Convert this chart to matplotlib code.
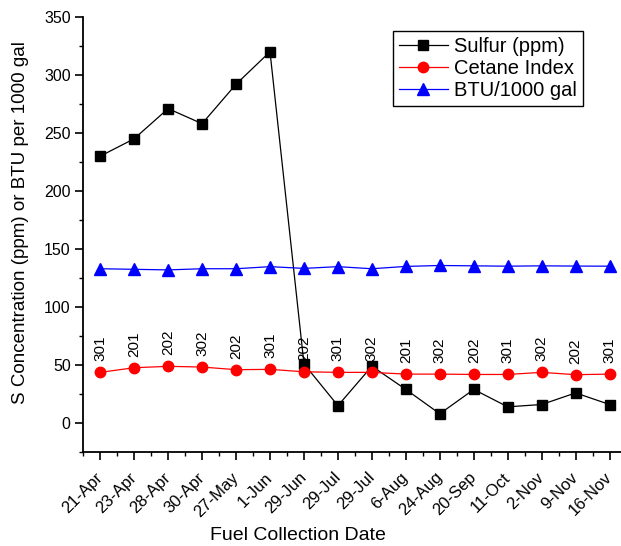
import matplotlib
matplotlib.use('Agg')
import matplotlib.pyplot as plt
from matplotlib.ticker import MultipleLocator
import numpy as np

plt.rcParams['font.family'] = ['Liberation Sans', 'DejaVu Sans']

dates = ['21-Apr', '23-Apr', '28-Apr', '30-Apr', '27-May', '1-Jun', '29-Jun', '29-Jul',
         '29-Jul', '6-Aug', '24-Aug', '20-Sep', '11-Oct', '2-Nov', '9-Nov', '16-Nov']
sulfur = [230, 245, 271, 258, 292, 320, 51, 15, 49, 29, 8, 29, 14, 16, 26, 16]
cetane = [43.7, 47.7, 48.9, 48.3, 46, 46.3, 44.2, 43.7, 43.7, 42.2, 42.2, 41.9, 41.9, 43.7, 41.7, 42.2]
btu = [133, 132.5, 132, 133, 133, 134.8, 133.3, 134.8, 133, 135, 135.8, 135.5, 135.2, 135.5, 135.3, 135.2]
grades = ['301', '201', '202', '302', '202', '301', '202', '301',
          '302', '201', '302', '202', '301', '302', '202', '301']

x = np.arange(len(dates))

fig = plt.figure(figsize=(6.21, 5.46), dpi=100)
ax = fig.add_axes([0.134, 0.172, 0.875, 0.797])

ax.plot(x, sulfur, color='black', lw=0.9, marker='s', ms=7, label='Sulfur (ppm)')
ax.plot(x, cetane, color='red', lw=0.9, marker='o', ms=7.5, label='Cetane Index')
ax.plot(x, btu, color='blue', lw=0.9, marker='^', ms=8, label='BTU/1000 gal')

for xi, yi, g in zip(x, cetane, grades):
    ax.annotate(g, (xi, yi), xytext=(0, 8), textcoords='offset points',
                rotation=90, ha='center', va='bottom', fontsize=11)

ax.set_xlim(-0.5, 15.5)
ax.set_ylim(-25, 350)
ax.set_xticks(x)
ax.set_xticklabels(dates, rotation=45, ha='right', va='center', rotation_mode='anchor', fontsize=12)
ax.xaxis.set_minor_locator(MultipleLocator(0.5))
ax.yaxis.set_major_locator(MultipleLocator(50))
ax.yaxis.set_minor_locator(MultipleLocator(25))
ax.tick_params(axis='both', which='major', direction='out', length=5.5, width=1.2, labelsize=11.5)
ax.tick_params(axis='x', which='major', labelsize=12, pad=11)
ax.tick_params(axis='both', which='minor', direction='out', length=3, width=1)
ax.spines['top'].set_visible(False)
ax.spines['right'].set_visible(False)
ax.spines['left'].set_linewidth(1.3)
ax.spines['bottom'].set_linewidth(1.3)

ax.set_xlabel('Fuel Collection Date', fontsize=14)
ax.set_ylabel('S Concentration (ppm) or BTU per 1000 gal', fontsize=13.5)
ax.xaxis.set_label_coords(0.396, -0.172)
ax.yaxis.set_label_coords(-0.10, 0.527)

leg = ax.legend(loc='upper right', bbox_to_anchor=(0.919, 0.968), borderaxespad=0,
                fontsize=14.5, fancybox=False, edgecolor='black', framealpha=1,
                handlelength=2.4, borderpad=0.3, labelspacing=0.15, handletextpad=0.3)
leg.get_frame().set_linewidth(1)

fig.savefig('out.png', dpi=100)
